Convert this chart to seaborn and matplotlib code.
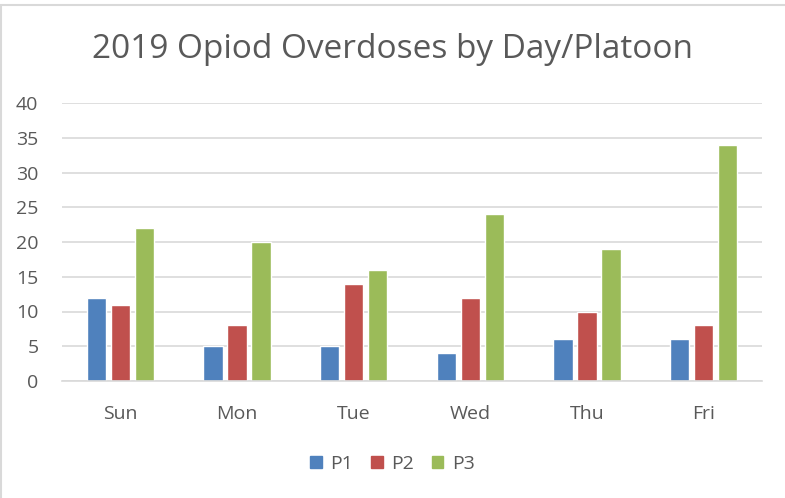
import matplotlib.pyplot as plt
import matplotlib.patches as mpatches
import seaborn as sns
import pandas as pd

# values
days = ["Sun", "Mon", "Tue", "Wed", "Thu", "Fri"]
p1 = [12, 5, 5, 4, 6, 6]
p2 = [11, 8, 14, 12, 10, 8]
p3 = [22, 20, 16, 24, 19, 34]
platoons = ["P1", "P2", "P3"]
colors = ["#4F81BD", "#C0504D", "#9BBB59"]

df = pd.DataFrame({"day": days * 3,
                   "platoon": ["P1"] * 6 + ["P2"] * 6 + ["P3"] * 6,
                   "count": p1 + p2 + p3})

sns.set_theme(style="white")
plt.rcParams['font.family'] = ['Open Sans', 'DejaVu Sans']
txt = "#595959"

fig = plt.figure(figsize=(7.85, 4.98), dpi=100)
ax = fig.add_axes([62 / 785, 1 - 381 / 498, 700 / 785, 278 / 498])

sns.barplot(data=df, x="day", y="count", hue="platoon", order=days,
            hue_order=platoons, palette=colors, width=0.62, gap=0.2,
            saturation=1, ax=ax, legend=False)

ax.set_ylim(0, 40)
ax.set_yticks(range(0, 41, 5))
ax.yaxis.grid(True, color="#D9D9D9", linewidth=1.2)
ax.set_axisbelow(True)
for s in ["top", "right", "left"]:
    ax.spines[s].set_visible(False)
ax.spines["bottom"].set_color("#D9D9D9")
ax.spines["bottom"].set_linewidth(1.2)
ax.tick_params(axis="both", length=0, labelsize=14, colors=txt)
ax.tick_params(axis="x", pad=17)
ax.tick_params(axis="y", pad=17)
ax.set_xlabel("")
ax.set_ylabel("")

fig.text(0.5, 1 - 49 / 498, "2019 Opiod Overdoses by Day/Platoon",
         ha="center", va="center", fontsize=24, color=txt)

handles = [mpatches.Patch(color=c, label=p) for c, p in zip(colors, platoons)]
fig.legend(handles=handles, loc="center", bbox_to_anchor=(0.5, 1 - 464 / 498),
           ncol=3, frameon=False, fontsize=14, labelcolor=txt,
           handlelength=0.6, handleheight=0.6, handletextpad=0.45, columnspacing=0.9)

# chart-area border (only left and top edges are visible in the source)
fig.patches.append(mpatches.Rectangle((1 / 785, -0.05), 1.2, 1 - 5 / 498 + 0.05,
                                      transform=fig.transFigure, fill=False,
                                      edgecolor="#D9D9D9", linewidth=1.5))

fig.savefig("out.png", dpi=100)
